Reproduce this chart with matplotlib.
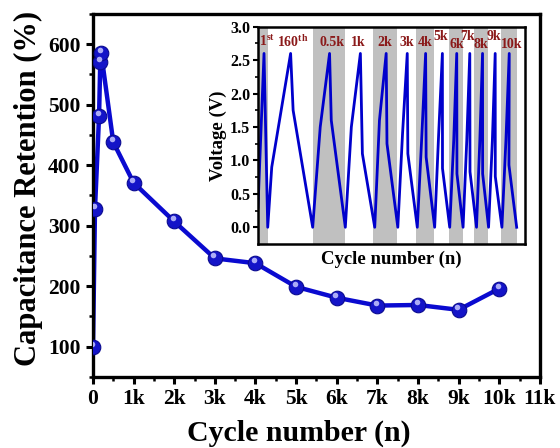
import matplotlib
matplotlib.use('Agg')
import matplotlib.pyplot as plt
from matplotlib.transforms import offset_copy

plt.rcParams['font.family'] = 'Liberation Serif'
plt.rcParams['font.weight'] = 'bold'
plt.rcParams['mathtext.fontset'] = 'custom'
plt.rcParams['mathtext.rm'] = 'Liberation Serif:bold'
plt.rcParams['mathtext.bf'] = 'Liberation Serif:bold'

# capacitance retention vs cycle
cycles = [1, 50, 150, 180, 200, 500, 1000, 2000, 3000, 4000, 5000, 6000, 7000, 8000, 9000, 10000]
retention = [100, 328, 481, 571, 586, 438, 371, 307, 246, 238, 199, 181, 168, 169, 161, 196]
xtick_vals = [0, 1000, 2000, 3000, 4000, 5000, 6000, 7000, 8000, 9000, 10000, 11000]
xtick_labels = ['0', '1k', '2k', '3k', '4k', '5k', '6k', '7k', '8k', '9k', '10k', '11k']

# inset: GCD curves (time axis in arbitrary units)
gcd_t = [0, 6, 9.7,
         13.7, 32.5, 35, 54.5,
         62, 71.3, 73, 87,
         93, 102, 104, 116.3,
         121, 127.7, 128.5, 139.3,
         144, 148.7, 149.3, 158.7,
         163, 167, 167.5, 176,
         180, 183.7, 183.8, 191,
         195, 198, 198.2, 204.3,
         208, 211, 211.2, 217.7,
         221, 223.7, 223.8, 229.7,
         233.5, 236.3, 236.4, 243,
         247, 250.3, 250, 257.7]
gcd_v = [0.3, 2.6, 0,
         0.9, 2.6, 1.75, 0,
         1.5, 2.6, 1.6, 0,
         1.5, 2.6, 1.1, 0,
         1.6, 2.6, 1.25, 0,
         1.4, 2.6, 1.1, 0,
         1.3, 2.6, 1.05, 0,
         1.4, 2.6, 0.88, 0,
         1.3, 2.6, 0.8, 0,
         1.3, 2.6, 0.83, 0,
         1.3, 2.6, 0.8, 0,
         1.3, 2.6, 0.76, 0,
         1.3, 2.6, 0.93, 0]
gray_bands = [(0, 9.5), (54.5, 87), (115, 138.5), (157.5, 175.5),
              (190.5, 204), (215.5, 229.5), (242.5, 258)]
cyc_names = [r'1$^{\mathbf{st}}$', r'160$^{\mathbf{th}}$', '0.5k', '1k', '2k', '3k', '4k',
             '5k', '6k', '7k', '8k', '9k', '10k']
name_t = [8.7, 34.7, 73.7, 100.3, 126, 148, 166.3, 182, 197.7, 208.7, 222, 235.3, 253]
name_v = [2.79, 2.78, 2.77, 2.77, 2.77, 2.77, 2.77, 2.85, 2.73, 2.85, 2.73, 2.85, 2.73]

fig = plt.figure(figsize=(5.6, 4.48), dpi=100)
ax = fig.add_axes([0.166, 0.1585, 0.798, 0.8105])

ax.plot(cycles, retention, color='#0a0ad0', lw=3.2, zorder=2)
ax.plot(cycles, retention, 'o', ms=10.5, color='#1414c8', mec='#0a0a90', mew=0.8, zorder=3)
hl = offset_copy(ax.transData, fig=fig, x=-1, y=2.2, units='points')
ax.plot(cycles, retention, 'o', ms=4, color='#c8c8ff', mec='none', alpha=0.85,
        transform=hl, zorder=4)

ax.set_xlim(0, 11000)
ax.set_ylim(50, 650)
ax.set_xticks(xtick_vals)
ax.set_xticklabels(xtick_labels)
ax.set_xticks(range(500, 11000, 1000), minor=True)
ax.set_yticks([100, 200, 300, 400, 500, 600])
ax.set_yticks(range(50, 651, 100), minor=True)
ax.tick_params(which='major', direction='out', length=5, width=2.2, labelsize=15.5, pad=4)
ax.tick_params(which='minor', direction='out', length=3, width=1.8)
for s in ax.spines.values():
    s.set_linewidth(2.4)
ax.set_xlabel('Cycle number (n)', fontsize=21.5, fontweight='bold')
ax.xaxis.set_label_coords(0.46, -0.117)
ax.xaxis.label.set_va('top')
ax.set_ylabel('Capacitance Retention (%)', fontsize=22, fontweight='bold')
ax.yaxis.set_label_coords(-0.112, 0.52)

# inset
ins = fig.add_axes([0.4607, 0.4554, 0.4768, 0.485])
for a, b in gray_bands:
    ins.axvspan(a, b, color='#c0c0c0', lw=0, zorder=0)
ins.plot(gcd_t, gcd_v, color='#0000cc', lw=2.0, zorder=2)
for n, t, v in zip(cyc_names, name_t, name_v):
    ins.text(t, v, n, color='#8b1a1a', fontsize=10, fontweight='bold',
             ha='center', va='center')
ins.set_xlim(0, 266)
ins.set_ylim(-0.25, 3.0)
ins.set_xticks([])
ins.set_yticks([0, 0.5, 1.0, 1.5, 2.0, 2.5, 3.0])
ins.set_yticks([0.25, 0.75, 1.25, 1.75, 2.25, 2.75], minor=True)
ins.tick_params(which='major', direction='out', length=3.5, width=1.5, labelsize=11.5, pad=2)
ins.tick_params(which='minor', direction='out', length=2, width=1.2)
for s in ins.spines.values():
    s.set_linewidth(1.8)
ins.set_xlabel('Cycle number (n)', fontsize=13.5, fontweight='bold', labelpad=5)
ins.set_ylabel('Voltage (V)', fontsize=13.5, fontweight='bold', labelpad=2)

fig.savefig('out.png', dpi=100)
